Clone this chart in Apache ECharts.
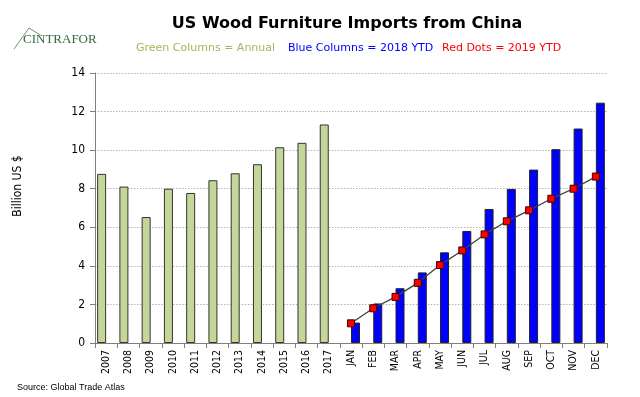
<!DOCTYPE html>
<html>
<head>
<meta charset="utf-8">
<script src="https://cdn.jsdelivr.net/npm/echarts@6/dist/echarts.min.js"></script>
<style>
  html, body { margin: 0; padding: 0; background: #fff; }
  #chart { width: 640px; height: 397px; }
</style>
</head>
<body>
<div id="chart"></div>
<script>
  // categories: annual years then 2018/2019 months
  var years = ['2007', '2008', '2009', '2010', '2011', '2012', '2013', '2014', '2015', '2016', '2017'];
  var months = ['JAN', 'FEB', 'MAR', 'APR', 'MAY', 'JUN', 'JUL', 'AUG', 'SEP', 'OCT', 'NOV', 'DEC'];

  // billion US $
  var annual = [8.77, 8.11, 6.53, 8.0, 7.78, 8.44, 8.8, 9.27, 10.15, 10.38, 11.33];
  var ytd2018 = [1.06, 2.05, 2.84, 3.66, 4.70, 5.81, 6.95, 7.99, 8.99, 10.05, 11.12, 12.46];
  var ytd2019 = [1.02, 1.80, 2.39, 3.12, 4.04, 4.80, 5.63, 6.31, 6.88, 7.48, 8.0, 8.63];

  var categories = years.concat(months);
  var pad = function (n) { var a = []; for (var i = 0; i < n; i++) a.push(null); return a; };

  var chart = echarts.init(document.getElementById('chart'));
  var option = {
    animation: false,
    backgroundColor: '#fff',
    title: [
      {
        text: 'US Wood Furniture Imports from China',
        left: 342, top: 11, textAlign: 'center',
        textStyle: { fontFamily: 'DejaVu Sans', fontWeight: 'bold', fontSize: 16, color: '#000' }
      },
      {
        text: 'Green Columns = Annual', left: 131, top: 38,
        textStyle: { fontFamily: 'DejaVu Sans', fontWeight: 'normal', fontSize: 11, color: '#9bbb59' }
      },
      {
        text: 'Blue Columns = 2018 YTD', left: 283, top: 38,
        textStyle: { fontFamily: 'DejaVu Sans', fontWeight: 'normal', fontSize: 11, color: '#0000ff' }
      },
      {
        text: 'Red Dots = 2019 YTD', left: 437, top: 38,
        textStyle: { fontFamily: 'DejaVu Sans', fontWeight: 'normal', fontSize: 11, color: '#ff0000' }
      },
      {
        text: 'Source: Global Trade Atlas', left: 12, top: 378,
        textStyle: { fontFamily: 'Liberation Sans', fontWeight: 'normal', fontSize: 9, color: '#000' }
      }
    ],
    graphic: [
      {
        type: 'polyline',
        shape: { points: [[14, 49], [29, 28], [42, 36]] },
        style: { stroke: '#6b9a6b', lineWidth: 1, fill: null }
      },
      {
        type: 'text', left: 23, top: 33,
        style: { text: 'CINTRAFOR', fontFamily: 'Liberation Serif', fontSize: 13, fill: '#2f6b3a' }
      },
      {
        type: 'text', x: 18, y: 186, rotation: Math.PI / 2,
        style: {
          text: 'Billion US $', fontFamily: 'DejaVu Sans Condensed', fontSize: 12, fill: '#000',
          textAlign: 'center', textVerticalAlign: 'middle'
        }
      }
    ],
    grid: { left: 95, right: 33, top: 73, bottom: 54, containLabel: false },
    xAxis: {
      type: 'category',
      data: categories,
      boundaryGap: true,
      axisLine: { lineStyle: { color: '#808080' } },
      axisTick: { show: true, length: 5, lineStyle: { color: '#808080' } },
      axisLabel: {
        rotate: 90, margin: 7, interval: 0,
        fontFamily: 'DejaVu Sans Condensed', fontSize: 10.5, color: '#000'
      }
    },
    yAxis: {
      type: 'value',
      min: 0, max: 14, interval: 2,
      axisLine: { show: true, lineStyle: { color: '#808080' } },
      axisTick: { show: true, length: 5, lineStyle: { color: '#808080' } },
      axisLabel: { margin: 10, fontFamily: 'DejaVu Sans Condensed', fontSize: 12, color: '#000' },
      splitLine: { lineStyle: { color: '#b4b4b4', type: [1.5, 1.5], width: 1 } }
    },
    series: [
      {
        name: 'Annual',
        type: 'bar',
        data: annual.concat(pad(months.length)),
        barWidth: 9,
        barGap: '0%',
        itemStyle: { color: '#c4d79b', borderColor: '#333', borderWidth: 1 }
      },
      {
        name: '2018 YTD',
        type: 'bar',
        data: pad(years.length).concat(ytd2018),
        barWidth: 9,
        barGap: '0%',
        itemStyle: { color: '#0000ff', borderColor: '#222', borderWidth: 1 }
      },
      {
        name: '2019 YTD',
        type: 'line',
        data: pad(years.length).concat(ytd2019),
        symbol: 'rect',
        symbolSize: 7,
        lineStyle: { color: '#404040', width: 1.3 },
        itemStyle: { color: '#ff0000', borderColor: '#400000', borderWidth: 1 },
        z: 5
      }
    ]
  };
  chart.setOption(option);
</script>
</body>
</html>
